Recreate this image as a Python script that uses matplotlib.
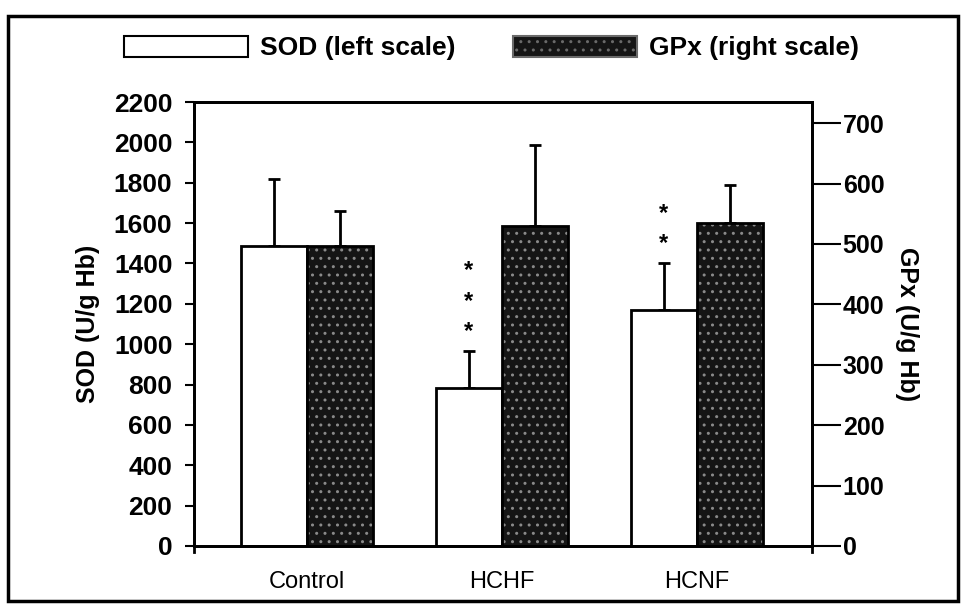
import matplotlib
matplotlib.use("Agg")
import matplotlib.pyplot as plt
import numpy as np
from matplotlib.patches import Patch, Rectangle

plt.rcParams["font.family"] = ["Liberation Sans", "DejaVu Sans"]

groups = ["Control", "HCHF", "HCNF"]
sod = [1488, 781, 1169]
sod_err = [329, 187, 235]
gpx = [496, 529, 535]
gpx_err = [58, 135, 63]
stars = [0, 3, 2]

sod_ticks = list(range(0, 2201, 200))
gpx_ticks = list(range(0, 701, 100))

fig = plt.figure(figsize=(9.66, 6.08), dpi=100)
ax = fig.add_axes([0.2008, 0.102, 0.64, 0.7302])
ax2 = ax.twinx()

x = np.arange(len(groups))
w = 0.34

# SOD bars (left scale)
ax.bar(x - w / 2, sod, w, color="white", edgecolor="black", linewidth=2, zorder=2)
ax.errorbar(x - w / 2, sod, yerr=[np.zeros(len(sod)), sod_err], fmt="none",
            ecolor="black", elinewidth=2, capsize=4.5, capthick=2, zorder=1)

# GPx bars (right scale), dark speckled fill
ax2.bar(x + w / 2, gpx, w, color="#151515", edgecolor="#8a8a8a", hatch="..",
        linewidth=0, zorder=2)
ax2.bar(x + w / 2, gpx, w, fill=False, edgecolor="black", linewidth=2, zorder=3)
ax2.errorbar(x + w / 2, gpx, yerr=[np.zeros(len(gpx)), gpx_err], fmt="none",
             ecolor="black", elinewidth=2, capsize=4.5, capthick=2, zorder=1)

# significance marks above SOD error bars
for i, n in enumerate(stars):
    for k in range(n):
        ax.text(x[i] - w / 2, sod[i] + sod_err[i] + 95 + 150 * k, "*",
                ha="center", va="center", fontsize=17, fontweight="bold")

ax.set_xlim(-0.58, 2.59)
ax.set_ylim(0, 2200)
ax2.set_ylim(0, 735)
ax.set_yticks(sod_ticks)
ax2.set_yticks(gpx_ticks)
ax.set_xticks(x)
ax.set_xticklabels(groups, fontsize=17)
ax.tick_params(axis="x", length=0, pad=18)
ax.tick_params(axis="y", direction="out", length=6.5, width=1.5, labelsize=19, pad=9)
ax2.tick_params(axis="y", direction="out", length=21, width=1.5, labelsize=18, pad=1)
for lab in ax.get_yticklabels() + ax2.get_yticklabels():
    lab.set_fontweight("bold")

for a in (ax, ax2):
    for s in a.spines.values():
        s.set_linewidth(2)
ax.spines["left"].set_bounds(-30, 2200)
ax2.spines["right"].set_bounds(-10, 735)

ax.set_ylabel("SOD (U/g Hb)", fontsize=18, fontweight="bold", labelpad=10)
ax2.set_ylabel("GPx (U/g Hb)", fontsize=18, fontweight="bold", rotation=270,
               labelpad=25)

handles = [
    Patch(facecolor="white", edgecolor="black", linewidth=1.5, label="SOD (left scale)"),
    Patch(facecolor="#151515", edgecolor="#6a6a6a", hatch="..", linewidth=1.5,
          label="GPx (right scale)"),
]
fig.legend(handles=handles, loc="center", bbox_to_anchor=(0.509, 0.921), ncol=2,
           frameon=False, prop={"size": 19, "weight": "bold"}, handlelength=4.7,
           handleheight=0.85, handletextpad=0.45, columnspacing=2.2)

fig.add_artist(Rectangle((0.008, 0.012), 0.984, 0.962, transform=fig.transFigure,
                         fill=False, edgecolor="black", linewidth=2.5))

fig.savefig("out.png", dpi=100)
